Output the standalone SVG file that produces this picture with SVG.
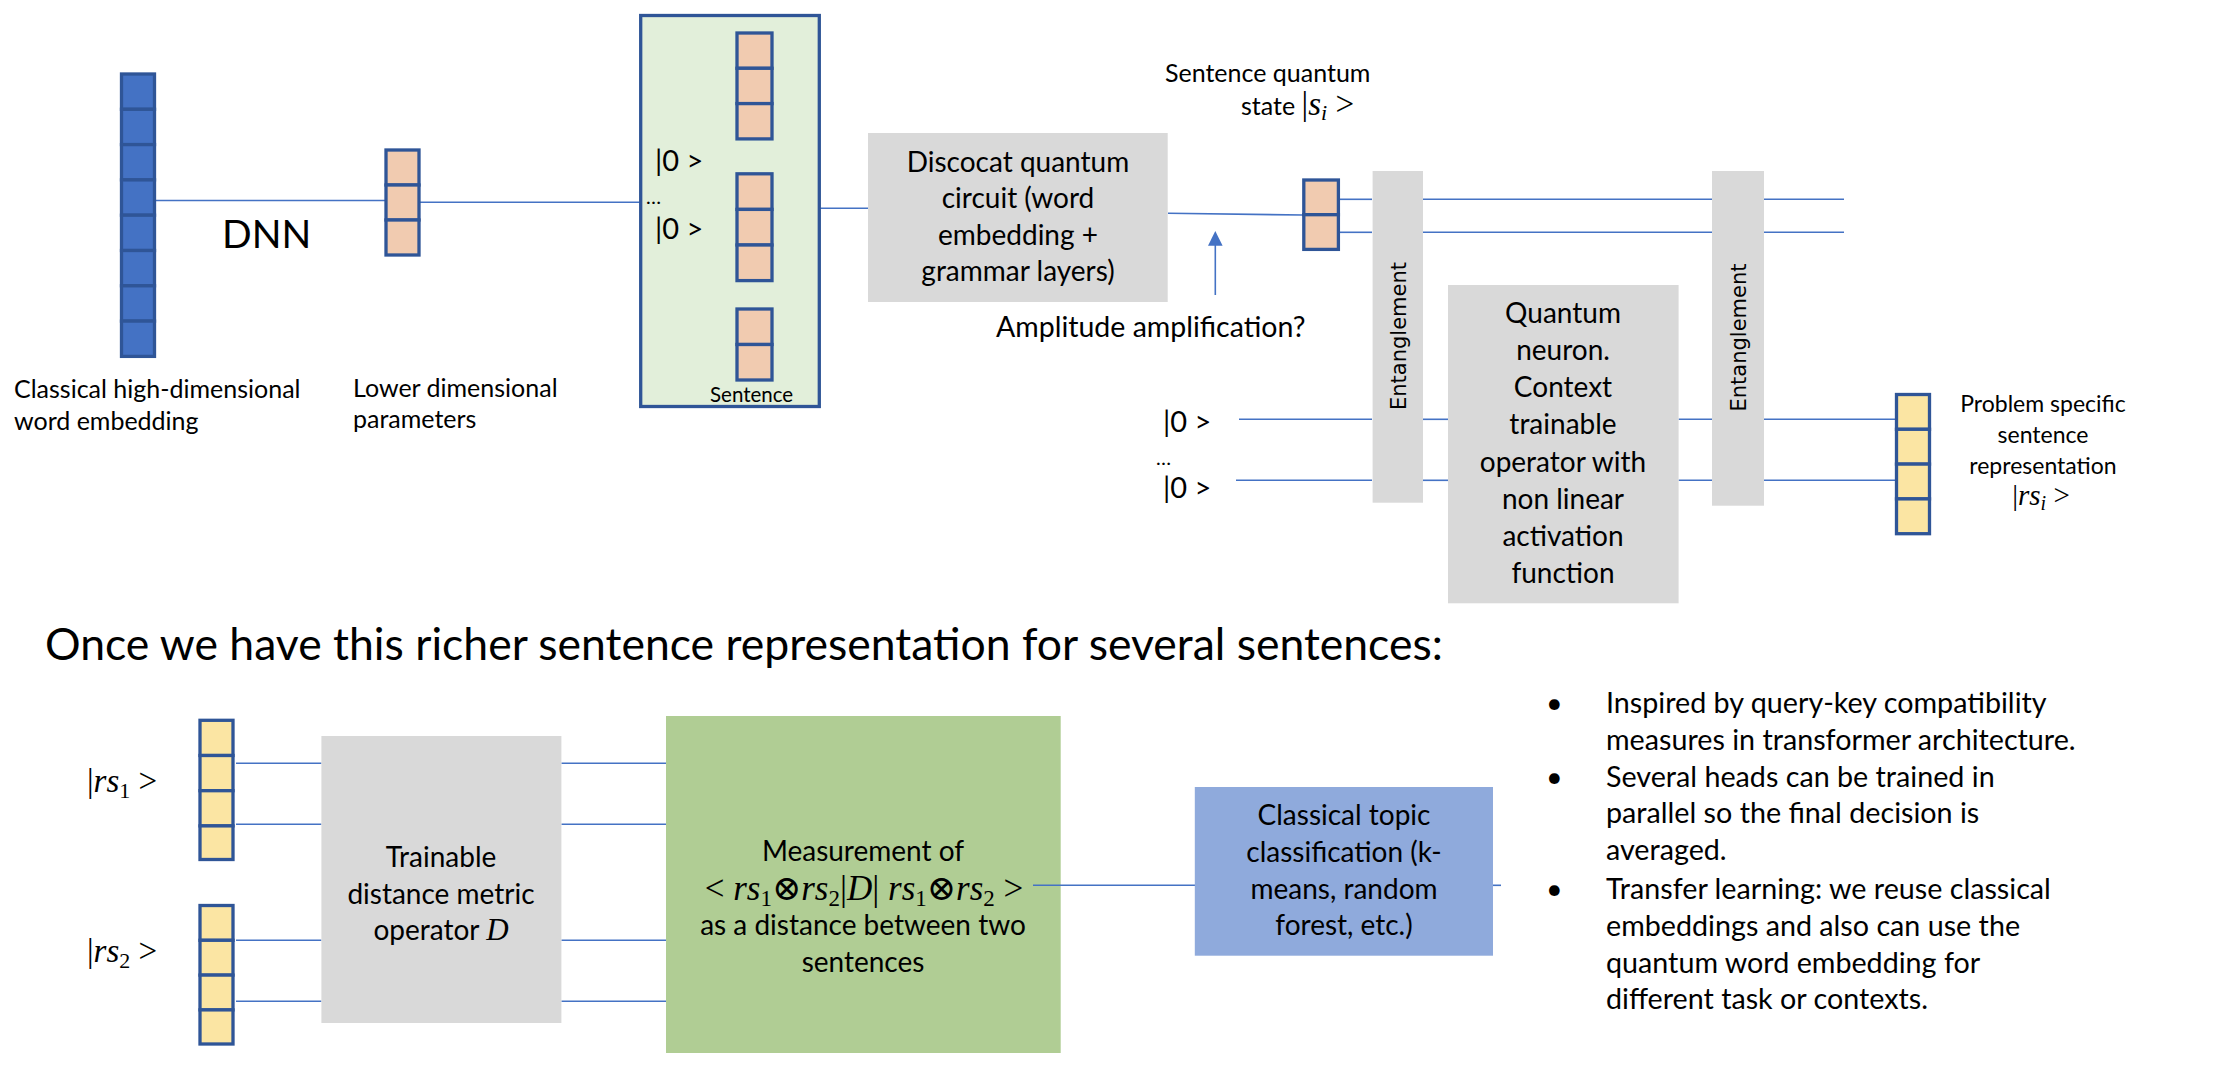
<svg xmlns="http://www.w3.org/2000/svg" width="2220" height="1074" viewBox="0 0 2220 1074">
<style>
.t{font-family:Lato,"Open Sans","Liberation Sans",sans-serif;fill:#000}
.m{font-family:"Liberation Serif","DejaVu Serif",serif;font-style:italic}
.u{font-family:"Liberation Serif","DejaVu Serif",serif;font-style:normal}
.ent{font-family:"DejaVu Sans",Verdana,sans-serif;font-size:21px;fill:#000}
.cell{stroke:#2f5597;stroke-width:3.3}
.blue{fill:#4472c4}
.peach{fill:#f1cbb0}
.yel{fill:#fbe5a3}
.gray{fill:#d9d9d9}
.ln{stroke:#4472c4;stroke-width:1.6;fill:none}
.c{text-anchor:middle}
</style>
<rect width="2220" height="1074" fill="#fff"/>

<g id="connectors">
<line class="ln" x1="156" y1="200.5" x2="385" y2="200.5"/>
<line class="ln" x1="420" y1="202.3" x2="640" y2="202.3"/>
<line class="ln" x1="820" y1="208.3" x2="868" y2="208.3"/>
<line class="ln" x1="1168" y1="213.3" x2="1303" y2="215"/>
<line class="ln" x1="1215.3" y1="295" x2="1215.3" y2="244"/>
<polygon points="1215.3,231 1208,245.7 1222.6,245.7" fill="#4472c4"/>
<line class="ln" x1="1340" y1="199.3" x2="1372" y2="199.3"/>
<line class="ln" x1="1340" y1="232.3" x2="1372" y2="232.3"/>
<line class="ln" x1="1423" y1="199.3" x2="1712" y2="199.3"/>
<line class="ln" x1="1423" y1="232.3" x2="1712" y2="232.3"/>
<line class="ln" x1="1764" y1="199.3" x2="1844" y2="199.3"/>
<line class="ln" x1="1764" y1="232.3" x2="1844" y2="232.3"/>
<line class="ln" x1="1239" y1="419.3" x2="1372" y2="419.3"/>
<line class="ln" x1="1423" y1="419.3" x2="1448" y2="419.3"/>
<line class="ln" x1="1678.6" y1="419.3" x2="1712" y2="419.3"/>
<line class="ln" x1="1764" y1="419.3" x2="1895" y2="419.3"/>
<line class="ln" x1="1236" y1="480.3" x2="1372" y2="480.3"/>
<line class="ln" x1="1423" y1="480.3" x2="1448" y2="480.3"/>
<line class="ln" x1="1678.6" y1="480.3" x2="1712" y2="480.3"/>
<line class="ln" x1="1764" y1="480.3" x2="1895" y2="480.3"/>
<line class="ln" x1="236" y1="763.3" x2="321.4" y2="763.3"/>
<line class="ln" x1="236" y1="824.3" x2="321.4" y2="824.3"/>
<line class="ln" x1="236" y1="940.3" x2="321.4" y2="940.3"/>
<line class="ln" x1="236" y1="1001.3" x2="321.4" y2="1001.3"/>
<line class="ln" x1="561.4" y1="763.3" x2="666" y2="763.3"/>
<line class="ln" x1="561.4" y1="824.3" x2="666" y2="824.3"/>
<line class="ln" x1="561.4" y1="940.3" x2="666" y2="940.3"/>
<line class="ln" x1="561.4" y1="1001.3" x2="666" y2="1001.3"/>
</g>

<g id="classical-embedding">
<rect class="cell blue" x="121.5" y="74" width="33" height="35.3"/>
<rect class="cell blue" x="121.5" y="109.3" width="33" height="35.3"/>
<rect class="cell blue" x="121.5" y="144.6" width="33" height="35.3"/>
<rect class="cell blue" x="121.5" y="179.9" width="33" height="35.3"/>
<rect class="cell blue" x="121.5" y="215.2" width="33" height="35.3"/>
<rect class="cell blue" x="121.5" y="250.5" width="33" height="35.3"/>
<rect class="cell blue" x="121.5" y="285.8" width="33" height="35.3"/>
<rect class="cell blue" x="121.5" y="321.1" width="33" height="35.3"/>
<text class="t" x="14" y="398" font-size="25">Classical high-dimensional</text>
<text class="t" x="14" y="430" font-size="25">word embedding</text>
</g>

<g id="dnn-label"><text class="t" x="222" y="248" font-size="39">DNN</text></g>

<g id="lower-params">
<rect class="cell peach" x="386" y="150" width="33" height="35"/>
<rect class="cell peach" x="386" y="185" width="33" height="35"/>
<rect class="cell peach" x="386" y="220" width="33" height="35"/>
<text class="t" x="353" y="397" font-size="25">Lower dimensional</text>
<text class="t" x="353" y="428" font-size="25">parameters</text>
</g>

<g id="sentence">
<rect x="640.7" y="15.5" width="178.6" height="391" fill="#e2efda" stroke="#2f5597" stroke-width="3.3"/>
<rect class="cell peach" x="737" y="33" width="35" height="35.3"/>
<rect class="cell peach" x="737" y="68.3" width="35" height="35.3"/>
<rect class="cell peach" x="737" y="103.6" width="35" height="35.3"/>
<rect class="cell peach" x="737" y="173.8" width="35" height="35.6"/>
<rect class="cell peach" x="737" y="209.4" width="35" height="35.6"/>
<rect class="cell peach" x="737" y="245" width="35" height="35.6"/>
<rect class="cell peach" x="737" y="309" width="35" height="35.5"/>
<rect class="cell peach" x="737" y="344.5" width="35" height="35.5"/>
<text class="t" x="655" y="171" font-size="29">|0 &gt;</text>
<text class="t" x="646" y="204" font-size="20">…</text>
<text class="t" x="655" y="239" font-size="29">|0 &gt;</text>
<text class="t" x="710" y="402" font-size="20.5">Sentence</text>
</g>

<g id="discocat">
<rect class="gray" x="868" y="133" width="299.7" height="169"/>
<text class="t c" x="1018" y="172" font-size="28">Discocat quantum</text>
<text class="t c" x="1018" y="208" font-size="28">circuit (word</text>
<text class="t c" x="1018" y="245" font-size="28">embedding +</text>
<text class="t c" x="1018" y="281" font-size="28">grammar layers)</text>
</g>

<g id="amplitude-label"><text class="t" x="996" y="337" font-size="28.5">Amplitude amplification?</text></g>

<g id="sentence-state">
<text class="t" x="1165" y="82" font-size="25">Sentence quantum</text>
<text class="t" x="1241" y="115" font-size="25">state <tspan class="u" font-size="33">|</tspan><tspan class="m" font-size="33">s</tspan><tspan class="m" font-size="22" dy="5">i</tspan><tspan class="u" font-size="33" dy="-5"> &gt;</tspan></text>
<rect class="cell peach" x="1303.8" y="180" width="34.6" height="34.7"/>
<rect class="cell peach" x="1303.8" y="214.7" width="34.6" height="34.7"/>
</g>

<g id="entanglement-1">
<rect class="gray" x="1372.6" y="171" width="50.4" height="331.7"/>
<text class="ent c" transform="translate(1406,336) rotate(-90)">Entanglement</text>
</g>

<g id="quantum-neuron">
<rect class="gray" x="1448" y="285" width="230.6" height="318.3"/>
<text class="t c" x="1563" y="323" font-size="28">Quantum</text>
<text class="t c" x="1563" y="360" font-size="28">neuron.</text>
<text class="t c" x="1563" y="397" font-size="28">Context</text>
<text class="t c" x="1563" y="434" font-size="28">trainable</text>
<text class="t c" x="1563" y="472" font-size="28">operator with</text>
<text class="t c" x="1563" y="509" font-size="28">non linear</text>
<text class="t c" x="1563" y="546" font-size="28">activation</text>
<text class="t c" x="1563" y="583" font-size="28">function</text>
</g>

<g id="entanglement-2">
<rect class="gray" x="1712" y="171" width="52" height="334.7"/>
<text class="ent c" transform="translate(1746,337.5) rotate(-90)">Entanglement</text>
</g>

<g id="ancilla-labels">
<text class="t" x="1163" y="432" font-size="29">|0 &gt;</text>
<text class="t" x="1156" y="465" font-size="20">…</text>
<text class="t" x="1163" y="498" font-size="29">|0 &gt;</text>
</g>

<g id="problem-specific">
<rect class="cell yel" x="1896.5" y="394.5" width="33" height="34.8"/>
<rect class="cell yel" x="1896.5" y="429.3" width="33" height="34.8"/>
<rect class="cell yel" x="1896.5" y="464.1" width="33" height="34.8"/>
<rect class="cell yel" x="1896.5" y="498.9" width="33" height="34.8"/>
<text class="t c" x="2043" y="412" font-size="23">Problem specific</text>
<text class="t c" x="2043" y="443" font-size="23">sentence</text>
<text class="t c" x="2043" y="474" font-size="23">representation</text>
<text class="t c" x="2041" y="505" font-size="23"><tspan class="u" font-size="29">|</tspan><tspan class="m" font-size="29">rs</tspan><tspan class="m" font-size="20" dy="5">i</tspan><tspan class="u" font-size="29" dy="-5"> &gt;</tspan></text>
</g>

<g id="title"><text class="t" x="45" y="660" font-size="44.5">Once we have this richer sentence representation for several sentences:</text></g>

<g id="rs1">
<rect class="cell yel" x="200" y="720.3" width="33" height="35.2"/>
<rect class="cell yel" x="200" y="755.5" width="33" height="35.2"/>
<rect class="cell yel" x="200" y="790.7" width="33" height="35.2"/>
<rect class="cell yel" x="200" y="825.9" width="33" height="33.6"/>
<text class="u" x="87" y="792" font-size="33">|<tspan class="m">rs</tspan><tspan font-size="22" dy="6">1</tspan><tspan dy="-6"> &gt;</tspan></text>
</g>

<g id="rs2">
<rect class="cell yel" x="200" y="905.5" width="33" height="34.8"/>
<rect class="cell yel" x="200" y="940.3" width="33" height="34.8"/>
<rect class="cell yel" x="200" y="975.1" width="33" height="34.8"/>
<rect class="cell yel" x="200" y="1009.9" width="33" height="34.1"/>
<text class="u" x="87" y="962" font-size="33">|<tspan class="m">rs</tspan><tspan font-size="22" dy="6">2</tspan><tspan dy="-6"> &gt;</tspan></text>
</g>

<g id="distance-operator">
<rect class="gray" x="321.4" y="736" width="240" height="287"/>
<text class="t c" x="441" y="867" font-size="28">Trainable</text>
<text class="t c" x="441" y="904" font-size="28">distance metric</text>
<text class="t c" x="441" y="940" font-size="28">operator <tspan class="m" font-size="31">D</tspan></text>
</g>

<g id="measurement">
<rect x="666" y="716" width="394.7" height="337" fill="#b0cd94"/>
<text class="t c" x="863" y="861" font-size="28">Measurement of</text>
<text class="u c" x="864" y="900" font-size="35">&lt; <tspan class="m">rs</tspan><tspan font-size="23" dy="6">1</tspan><tspan dy="-6">⊗</tspan><tspan class="m">rs</tspan><tspan font-size="23" dy="6">2</tspan><tspan dy="-6">|</tspan><tspan class="m">D</tspan>| <tspan class="m">rs</tspan><tspan font-size="23" dy="6">1</tspan><tspan dy="-6">⊗</tspan><tspan class="m">rs</tspan><tspan font-size="23" dy="6">2</tspan><tspan dy="-6"> &gt;</tspan></text>
<text class="t c" x="863" y="935" font-size="28">as a distance between two</text>
<text class="t c" x="863" y="972" font-size="28">sentences</text>
</g>

<g id="connector-to-topic">
<line class="ln" x1="1033" y1="885.3" x2="1195" y2="885.3"/>
<line class="ln" x1="1493" y1="885.3" x2="1501" y2="885.3"/>
</g>

<g id="topic-classification">
<rect x="1194.8" y="787" width="298.2" height="168.7" fill="#8faadc"/>
<text class="t c" x="1344" y="825" font-size="28">Classical topic</text>
<text class="t c" x="1344" y="862" font-size="28">classification (k-</text>
<text class="t c" x="1344" y="899" font-size="28">means, random</text>
<text class="t c" x="1344" y="935" font-size="28">forest, etc.)</text>
</g>

<g id="notes">
<text class="t" x="1546" y="713" font-size="28.7">•</text>
<text class="t" x="1606" y="713" font-size="28.7">Inspired by query-key compatibility</text>
<text class="t" x="1606" y="750" font-size="28.7">measures in transformer architecture.</text>
<text class="t" x="1546" y="787" font-size="28.7">•</text>
<text class="t" x="1606" y="787" font-size="28.7">Several heads can be trained in</text>
<text class="t" x="1606" y="823" font-size="28.7">parallel so the final decision is</text>
<text class="t" x="1606" y="860" font-size="28.7">averaged.</text>
<text class="t" x="1546" y="899" font-size="28.7">•</text>
<text class="t" x="1606" y="899" font-size="28.7">Transfer learning: we reuse classical</text>
<text class="t" x="1606" y="936" font-size="28.7">embeddings and also can use the</text>
<text class="t" x="1606" y="973" font-size="28.7">quantum word embedding for</text>
<text class="t" x="1606" y="1009" font-size="28.7">different task or contexts.</text>
</g>
</svg>
